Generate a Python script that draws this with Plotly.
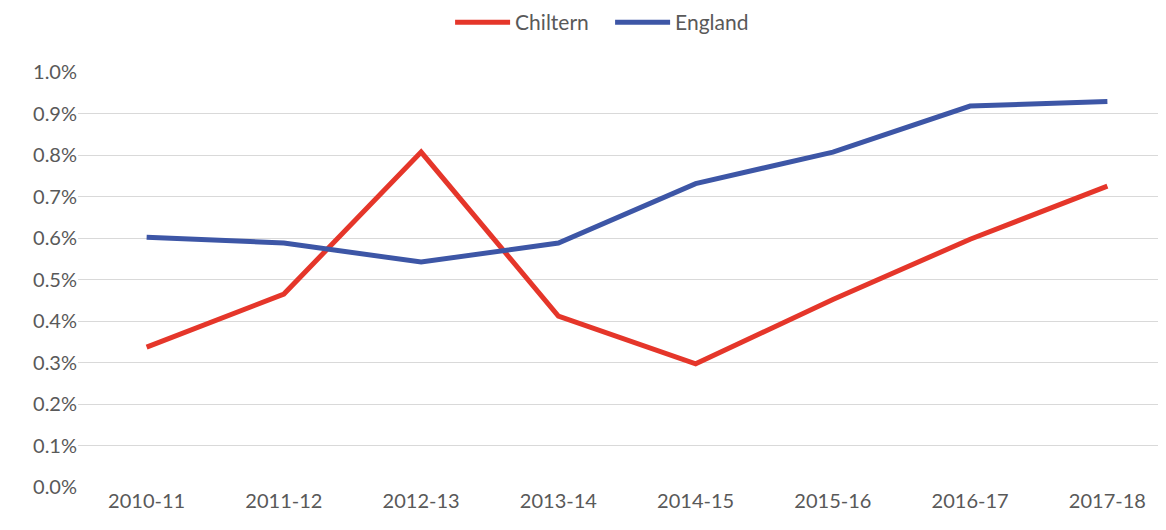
import plotly.graph_objects as go

years = ["2010-11", "2011-12", "2012-13", "2013-14", "2014-15", "2015-16", "2016-17", "2017-18"]
chiltern = [0.337, 0.465, 0.807, 0.412, 0.297, 0.452, 0.597, 0.725]
england = [0.602, 0.588, 0.542, 0.588, 0.731, 0.807, 0.918, 0.929]
y_ticks = [0.0, 0.1, 0.2, 0.3, 0.4, 0.5, 0.6, 0.7, 0.8, 0.9, 1.0]

FONT = "Lato, 'Open Sans', sans-serif"

fig = go.Figure()
fig.add_trace(go.Scatter(x=years, y=chiltern, mode="lines", name="Chiltern",
                         line=dict(color="#E5362A", width=5)))
fig.add_trace(go.Scatter(x=years, y=england, mode="lines", name="England",
                         line=dict(color="#3D56A6", width=5)))

fig.update_layout(
    width=1158, height=522,
    margin=dict(l=70, r=0, t=64, b=43),
    plot_bgcolor="white", paper_bgcolor="white",
    font=dict(family=FONT, size=20, color="#595959"),
    showlegend=True,
    legend=dict(orientation="h", x=0.342, xanchor="left", y=0.972, yanchor="middle",
                yref="container", font=dict(size=21, color="#595959"),
                itemwidth=55, entrywidth=90, entrywidthmode="pixels",
                tracegroupgap=0),
    xaxis=dict(type="category", range=[-0.5, 7.427], showgrid=False, showline=False,
               ticks="", tickfont=dict(size=20, color="#595959")),
    yaxis=dict(range=[0, 1.0], tickvals=y_ticks,
               ticktext=[f"{v:.1f}%" for v in y_ticks],
               showgrid=True, gridcolor="#D9D9D9", gridwidth=1.3,
               zeroline=False, showline=False, ticks="", ticklen=0,
               tickfont=dict(size=20, color="#595959")),
)
fig.write_html("out.html")
